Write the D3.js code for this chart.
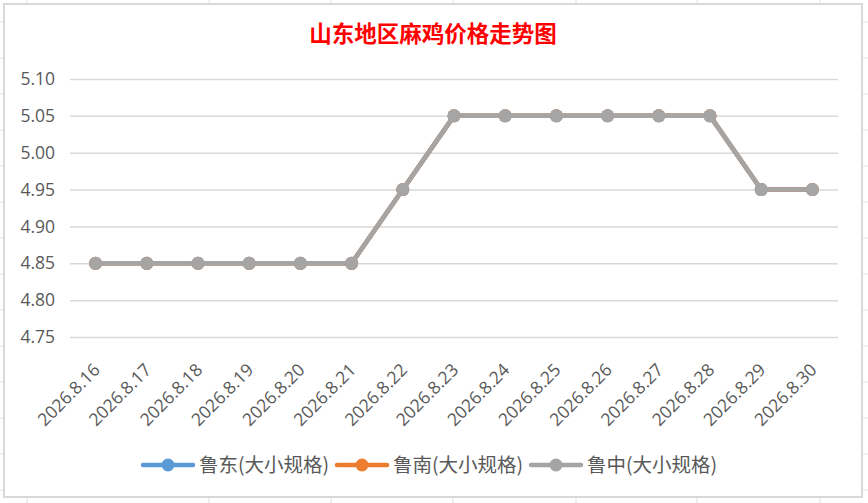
<!DOCTYPE html>
<html>
<head>
<meta charset="utf-8">
<script src="https://cdn.jsdelivr.net/npm/d3@7"></script>
<style>
  html, body { margin: 0; padding: 0; background: #fff; }
  svg { display: block; }
</style>
</head>
<body>
<svg id="chart"></svg>
<script>
// Data
const dates = ["2026.8.16", "2026.8.17", "2026.8.18", "2026.8.19", "2026.8.20",
  "2026.8.21", "2026.8.22", "2026.8.23", "2026.8.24", "2026.8.25",
  "2026.8.26", "2026.8.27", "2026.8.28", "2026.8.29", "2026.8.30"];
const ludong = [4.85, 4.85, 4.85, 4.85, 4.85, 4.85, 4.95, 5.05, 5.05, 5.05, 5.05, 5.05, 5.05, 4.95, 4.95];
const lunan = [4.85, 4.85, 4.85, 4.85, 4.85, 4.85, 4.95, 5.05, 5.05, 5.05, 5.05, 5.05, 5.05, 4.95, 4.95];
const luzhong = [4.85, 4.85, 4.85, 4.85, 4.85, 4.85, 4.95, 5.05, 5.05, 5.05, 5.05, 5.05, 5.05, 4.95, 4.95];
const seriesNames = ["鲁东(大小规格)", "鲁南(大小规格)", "鲁中(大小规格)"];
const seriesColors = ["#5b9bd5", "#ed7d31", "#a5a5a5"];
const yTicks = [4.75, 4.80, 4.85, 4.90, 4.95, 5.00, 5.05, 5.10];
const title = "山东地区麻鸡价格走势图";

// Constants
const width = 868;
const height = 503;
const plot = { left: 70, right: 838, top: 79, bottom: 337 };
const labelFont = "'Open Sans', 'Noto Sans CJK SC', sans-serif";
const textColor = "#595959";

const svg = d3.select("#chart").attr("width", width).attr("height", height);

// spreadsheet cell grid peeking out behind the chart
const cols = [27, 209, 331, 453, 576, 697, 820];
const rows = d3.range(22, height, 36);
svg.append("g").selectAll("line.c").data(cols).enter().append("line")
  .attr("x1", d => d).attr("x2", d => d).attr("y1", 0).attr("y2", height)
  .attr("stroke", "#e1e1e1").attr("stroke-width", 1);
svg.append("g").selectAll("line.r").data(rows).enter().append("line")
  .attr("x1", 0).attr("x2", width).attr("y1", d => d).attr("y2", d => d)
  .attr("stroke", "#e1e1e1").attr("stroke-width", 1);

// chart area
svg.append("rect")
  .attr("x", 4).attr("y", 4).attr("width", 858).attr("height", 493)
  .attr("fill", "#fff").attr("stroke", "#d9d9d9").attr("stroke-width", 2);

// title
svg.append("text")
  .attr("x", 433).attr("y", 42)
  .attr("text-anchor", "middle")
  .attr("fill", "#ff0000")
  .attr("font-family", "'Noto Sans CJK SC', sans-serif")
  .attr("font-weight", "bold")
  .attr("font-size", 22.5)
  .text(title);

// scales
const xScale = d3.scalePoint()
  .domain(dates)
  .range([plot.left, plot.right])
  .padding(0.5);

const yScale = d3.scaleLinear()
  .domain([4.75, 5.10])
  .range([plot.bottom, plot.top]);

// horizontal gridlines via axis
const yAxis = svg.append("g")
  .attr("transform", `translate(${plot.left},0)`)
  .call(d3.axisLeft(yScale).tickValues(yTicks).tickFormat(d3.format(".2f"))
    .tickSize(-(plot.right - plot.left)).tickPadding(15));
yAxis.select(".domain").remove();
yAxis.selectAll(".tick line").attr("stroke", "#d9d9d9").attr("stroke-width", 1.5);
yAxis.selectAll(".tick text")
  .attr("fill", textColor)
  .attr("font-family", labelFont)
  .attr("font-size", 17.5);

// x axis labels, rotated
const xAxis = svg.append("g")
  .attr("transform", `translate(0,${plot.bottom})`)
  .call(d3.axisBottom(xScale).tickSize(0));
xAxis.select(".domain").remove();
xAxis.selectAll(".tick text")
  .attr("fill", textColor)
  .attr("font-family", labelFont)
  .attr("font-size", 17.5)
  .attr("text-anchor", "end")
  .attr("y", 0)
  .attr("dy", 0)
  .attr("transform", "translate(5,34) rotate(-45)");

// series lines + markers, drawn in order so gray ends on top
const allSeries = [ludong, lunan, luzhong];
const line = d3.line()
  .x((d, i) => xScale(dates[i]))
  .y(d => yScale(d));

allSeries.forEach((vals, s) => {
  svg.append("path")
    .datum(vals)
    .attr("fill", "none")
    .attr("stroke", seriesColors[s])
    .attr("stroke-width", 4.5)
    .attr("stroke-linejoin", "round")
    .attr("d", line);
  svg.append("g").selectAll("circle").data(vals).enter().append("circle")
    .attr("cx", (d, i) => xScale(dates[i]))
    .attr("cy", d => yScale(d))
    .attr("r", 6.5)
    .attr("fill", seriesColors[s]);
});

// legend
const legendX = [143, 337, 531];
const legend = svg.append("g");
seriesNames.forEach((name, s) => {
  const g = legend.append("g").attr("transform", `translate(${legendX[s]},465)`);
  g.append("line").attr("x1", 0).attr("x2", 50).attr("y1", 0).attr("y2", 0)
    .attr("stroke", seriesColors[s]).attr("stroke-width", 4.5).attr("stroke-linecap", "round");
  g.append("circle").attr("cx", 25).attr("cy", 0).attr("r", 6.5).attr("fill", seriesColors[s]);
  g.append("text").attr("x", 56).attr("y", 7)
    .attr("fill", textColor)
    .attr("font-family", "'Noto Sans CJK SC', sans-serif")
    .attr("font-size", 19.5)
    .text(name);
});
</script>
</body>
</html>
